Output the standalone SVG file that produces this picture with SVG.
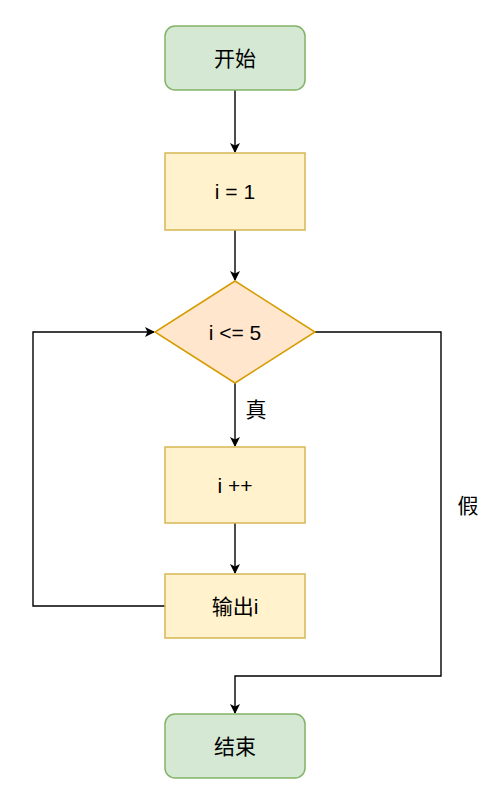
<svg xmlns="http://www.w3.org/2000/svg" width="502" height="806" viewBox="0 0 502 806">
<style>
.t{font-family:"Liberation Sans","Noto Sans CJK SC",sans-serif;font-size:21px;fill:#000;text-anchor:middle;dominant-baseline:central}
.g{fill:#d5e8d4;stroke:#82b366;stroke-width:1.5}
.y{fill:#fff2cc;stroke:#d6b656;stroke-width:1.5}
.o{fill:#ffe6cc;stroke:#d79b00;stroke-width:1.5}
.e{fill:none;stroke:#000;stroke-width:1.4}
</style>
<defs>
<marker id="a" viewBox="0 0 10 10" refX="9" refY="5" markerWidth="10" markerHeight="10" markerUnits="userSpaceOnUse" orient="auto">
<path d="M0,0 L10,5 L0,10 L2.5,5 Z" fill="#000"/>
</marker>
</defs>
<rect width="502" height="806" fill="#fff"/>
<g id="edges">
<path class="e" d="M235,90 V152" marker-end="url(#a)"/>
<path class="e" d="M235,230 V280" marker-end="url(#a)"/>
<path class="e" d="M235,383 V446" marker-end="url(#a)"/>
<path class="e" d="M235,523 V573" marker-end="url(#a)"/>
<path class="e" d="M165,606 H33 V332 H154" marker-end="url(#a)"/>
<path class="e" d="M315,332 H441 V676 H235 V713" marker-end="url(#a)"/>
<text class="t" x="256" y="409">真</text>
<text class="t" x="468" y="505">假</text>
</g>
<g id="start"><rect class="g" x="165" y="26" width="140" height="64" rx="10"/><text class="t" x="235" y="58">开始</text></g>
<g id="init"><rect class="y" x="165" y="153" width="140" height="77"/><text class="t" x="235" y="191">i = 1</text></g>
<g id="cond"><path class="o" d="M235,281 L315,332 L235,383 L155,332 Z"/><text class="t" x="235" y="332">i &lt;= 5</text></g>
<g id="inc"><rect class="y" x="165" y="447" width="140" height="76"/><text class="t" x="235" y="485">i ++</text></g>
<g id="out"><rect class="y" x="165" y="574" width="140" height="64"/><text class="t" x="235" y="606">输出i</text></g>
<g id="end"><rect class="g" x="165" y="714" width="140" height="64" rx="10"/><text class="t" x="235" y="746">结束</text></g>
</svg>
